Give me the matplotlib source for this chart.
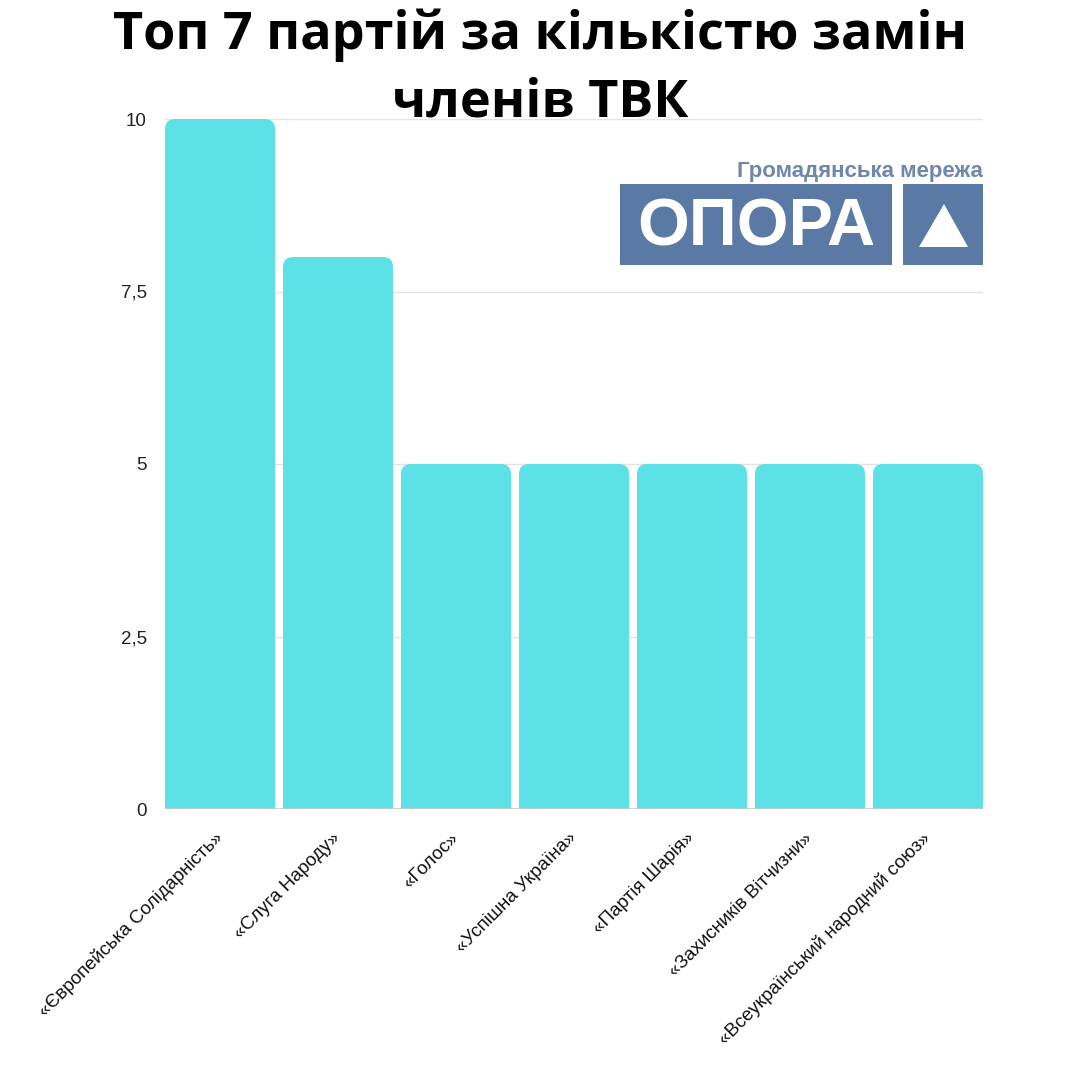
import matplotlib
matplotlib.use("Agg")
import matplotlib.pyplot as plt
from matplotlib.patches import FancyBboxPatch, Rectangle, Polygon

categories = ["«Європейська Солідарність»", "«Слуга Народу»", "«Голос»",
              "«Успішна Україна»", "«Партія Шарія»", "«Захисників Вітчизни»",
              "«Всеукраїнський народний союз»"]
values = [10, 8, 5, 5, 5, 5, 5]
yticks = [0, 2.5, 5, 7.5, 10]
ytick_labels = ["0", "2,5", "5", "7,5", "10"]
title_lines = ["Топ 7 партій за кількістю замін", "членів ТВК"]

bar_color = "#5CE1E6"
logo_color = "#5B79A5"

W = 1080
fig = plt.figure(figsize=(10.8, 10.8), dpi=100)
fig.patch.set_facecolor("white")
ax = fig.add_axes([165 / W, 1 - 809 / W, (983 - 165) / W, (809 - 119) / W])

width = 0.932
xs = list(range(len(categories)))
bars = ax.bar(xs, values, width=width, color=bar_color, zorder=2)
ax.set_xlim(-width / 2, len(categories) - 1 + width / 2)
ax.set_ylim(0, 10)

# rounded-top bars
for b in bars:
    x0, w, h = b.get_x(), b.get_width(), b.get_height()
    b.set_visible(False)
    p = FancyBboxPatch((x0, -1), w, h + 1,
                       boxstyle="round,pad=0,rounding_size=0.085",
                       mutation_aspect=1.7, facecolor=bar_color,
                       edgecolor="none", zorder=2, clip_on=True)
    ax.add_patch(p)
    p.set_clip_path(ax.patch)

for s in ax.spines.values():
    s.set_visible(False)
ax.set_yticks(yticks)
ax.set_yticklabels(ytick_labels, fontsize=13.5, family="Liberation Sans", color="#222222")
ax.tick_params(axis="y", length=0, pad=13)
ax.tick_params(axis="x", length=0, pad=19)
for yv in yticks[1:]:
    ax.axhline(yv, color="#e3e3e3", lw=1, zorder=1)
ax.axhline(0, color="#c8c8c8", lw=1.2, zorder=3)

ax.set_xticks(xs)
ax.set_xticklabels(categories, rotation=45, ha="right", va="center",
                   rotation_mode="anchor", fontsize=13.6,
                   family="Liberation Sans", color="#111111")

fig.text(0.5, 1 - 35 / W, title_lines[0], ha="center", va="center", fontsize=37.5,
         fontweight="bold", family="Open Sans", zorder=10)
fig.text(0.5, 1 - 103 / W, title_lines[1], ha="center", va="center", fontsize=37.5,
         fontweight="bold", family="Open Sans", zorder=10)

# logo
fig.add_artist(Rectangle((620 / W, 1 - 265 / W), 272 / W, 81 / W,
                         transform=fig.transFigure, facecolor=logo_color,
                         edgecolor="none"))
fig.add_artist(Rectangle((903 / W, 1 - 265 / W), 80 / W, 81 / W,
                         transform=fig.transFigure, facecolor=logo_color,
                         edgecolor="none"))
fig.add_artist(Polygon([(919 / W, 1 - 247 / W), (968 / W, 1 - 247 / W),
                        (944 / W, 1 - 204 / W)], closed=True,
                       transform=fig.transFigure, facecolor="white",
                       edgecolor="none"))
fig.text(756 / W, 1 - 228 / W, "ОПОРА", ha="center", va="center",
         fontsize=48, fontweight="bold", family="Liberation Sans", color="white")
fig.text(983 / W, 1 - 171 / W, "Громадянська мережа", ha="right", va="center",
         fontsize=16, fontweight="bold", family="Liberation Sans", color="#6F87AB")

fig.savefig("out.png", dpi=100, facecolor="white")
